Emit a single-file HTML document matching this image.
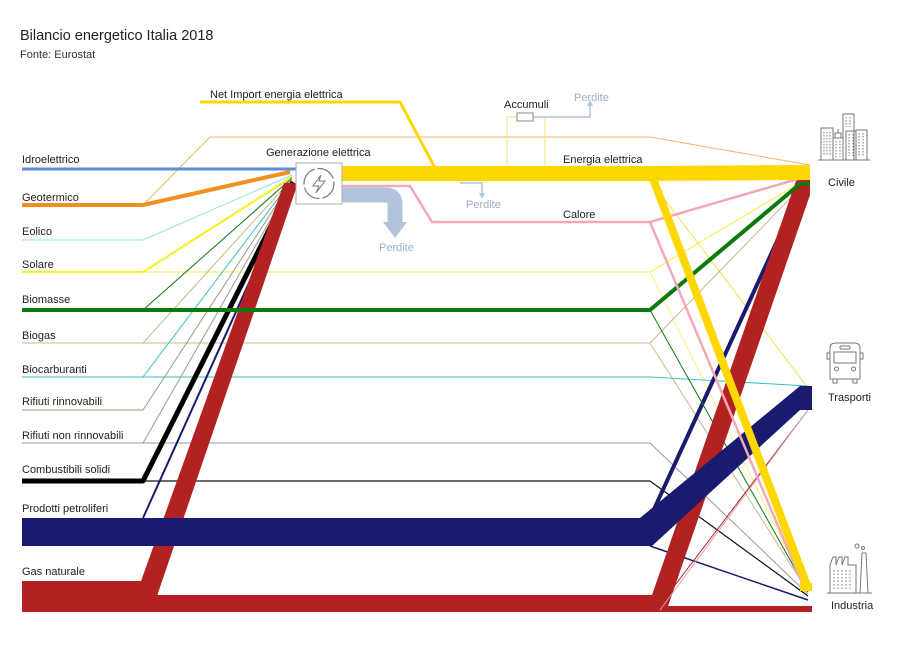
<!DOCTYPE html>
<html><head><meta charset="utf-8"><style>
body{margin:0;background:#fff}
svg{display:block;font-family:"Liberation Sans",sans-serif}
</style></head><body>
<svg width="911" height="664" viewBox="0 0 911 664" xmlns="http://www.w3.org/2000/svg">
<rect width="911" height="664" fill="#fff"/>
<text x="20" y="40" font-size="14.5" fill="#222">Bilancio energetico Italia 2018</text>
<text x="20" y="58" font-size="11" fill="#333">Fonte: Eurostat</text>

<g fill="none" stroke-linejoin="round">
<path d="M143 205 L210 137 L650 137 L810 165" stroke="#f2b46a" stroke-width="1"/>
<path d="M200 102 L400 102 L435 168" stroke="#ffd700" stroke-width="3"/>
<path d="M507 166 L507 117 L517 117" stroke="#f5e070" stroke-width="1"/>
<path d="M533 117 L545 117 L545 166" stroke="#f5e070" stroke-width="1"/>
<path d="M533 117 L590 117 L590 104" stroke="#b0c4de" stroke-width="1.5"/>
<path d="M587 106 L590 100 L593 106Z" fill="#b0c4de"/>
<rect x="517" y="113" width="16" height="8" fill="#fff" stroke="#888"/>

<path d="M143 272 L650 272 L808 178" stroke="#f7f37a" stroke-width="1.5"/>
<path d="M650 272 L808 592" stroke="#f7f37a" stroke-width="1"/>
<path d="M650 180 L808 388" stroke="#f5e04a" stroke-width="1"/>
<path d="M650 180 L808 590" stroke="#f5e04a" stroke-width="1"/>
<path d="M143 343 L650 343 L808 180" stroke="#c8b88a" stroke-width="1"/>
<path d="M650 343 L808 592" stroke="#c8b88a" stroke-width="1"/>
<path d="M22 377 L650 377 L808 386" stroke="#3bbfbf" stroke-width="1"/>
<path d="M22 443 L650 443 L808 594" stroke="#999" stroke-width="1"/>
<path d="M143 481 L650 481 L808 596" stroke="#111" stroke-width="1.2"/>
<path d="M650 546 L808 600" stroke="#1a1a6e" stroke-width="1.5"/>
<path d="M650 518 L806 178" stroke="#1a1a6e" stroke-width="4"/>
<path d="M650 310 L808 592" stroke="#0a7a0a" stroke-width="1"/>
<path d="M660 605 L808 410" stroke="#b22222" stroke-width="1"/>

<path d="M143 205 L290 172" stroke="#f0901e" stroke-width="4"/>
<path d="M22 205 L143 205" stroke="#f0901e" stroke-width="4"/>
<path d="M22 169 L296 169" stroke="#5b8fd9" stroke-width="3"/>
<path d="M22 240 L143 240 L292 175" stroke="#8fe5d8" stroke-width="1"/>
<path d="M22 272 L143 272 L292 177" stroke="#f5f020" stroke-width="2"/>
<path d="M22 310 L143 310 L292 178" stroke="#0a7a0a" stroke-width="1"/>
<path d="M22 343 L143 343 L292 179" stroke="#c8b88a" stroke-width="1"/>
<path d="M143 377 L292 180" stroke="#3bbfbf" stroke-width="1"/>
<path d="M22 410 L143 410 L292 181" stroke="#9a9a80" stroke-width="1"/>
<path d="M143 443 L292 182" stroke="#999" stroke-width="1"/>
<path d="M22 481 L143 481 L293 182" stroke="#000" stroke-width="5"/>
<path d="M143 518 L294 183" stroke="#1a1a6e" stroke-width="2"/>
</g>
<polygon points="22,581 141,581 284,183 298,183 157,596 22,596" fill="#b22222"/>
<polygon points="22,595 652,595 797,178 810,178 810,195 666,612 22,612" fill="#b22222"/>
<rect x="650" y="606" width="162" height="6" fill="#b22222"/>
<polygon points="22,518 640,518 800,386 812,386 812,410 800,410 652,546 22,546" fill="#1a1a6e"/>
<path d="M660 610 L808 410" stroke="#d8a0b0" stroke-width="1" fill="none"/>
<path d="M22 310 L650 310 L800 184 L810 184" stroke="#0a7a0a" stroke-width="4" fill="none"/>
<path d="M342 186 L410 186 L432 222 L650 222 L808 176" stroke="#f4a8b8" stroke-width="2.5" fill="none"/>
<path d="M650 222 L805 590" stroke="#f4a8b8" stroke-width="2.5" fill="none"/>
<path d="M652 176 L808 588" stroke="#ffd700" stroke-width="8" fill="none"/>
<rect x="800" y="583" width="12" height="8" fill="#ffd700"/>
<path d="M342 195 L386 195 Q395 195 395 204 L395 225" stroke="#b0c4de" stroke-width="15" fill="none"/>
<polygon points="383,222 407,222 395,238" fill="#b0c4de"/>
<polygon points="342,166 650,166 810,165 810,180 650,181 342,181" fill="#ffd700"/>
<path d="M460 183 L482 183 L482 194" stroke="#b0c4de" stroke-width="1.5" fill="none"/>
<path d="M479 193 L482 199 L485 193Z" fill="#b0c4de"/>

<rect x="296" y="163" width="46" height="41" fill="#fff" stroke="#aaa"/>
<circle cx="319" cy="183.5" r="15" fill="none" stroke="#777" stroke-width="1.2" stroke-dasharray="20 3"/>
<path d="M321 175 L313 186 L319 186 L316 193 L325 181 L319 181Z" fill="none" stroke="#777" stroke-width="1"/>

<g font-size="11" fill="#222">
<text x="22" y="163">Idroelettrico</text>
<text x="22" y="201">Geotermico</text>
<text x="22" y="235">Eolico</text>
<text x="22" y="268">Solare</text>
<text x="22" y="303">Biomasse</text>
<text x="22" y="339">Biogas</text>
<text x="22" y="373">Biocarburanti</text>
<text x="22" y="405">Rifiuti rinnovabili</text>
<text x="22" y="439">Rifiuti non rinnovabili</text>
<text x="22" y="473">Combustibili solidi</text>
<text x="22" y="512">Prodotti petroliferi</text>
<text x="22" y="575">Gas naturale</text>
<text x="210" y="98">Net Import energia elettrica</text>
<text x="266" y="156">Generazione elettrica</text>
<text x="504" y="108">Accumuli</text>
<text x="563" y="163">Energia elettrica</text>
<text x="563" y="218">Calore</text>
<text x="828" y="186">Civile</text>
<text x="828" y="401">Trasporti</text>
<text x="831" y="609">Industria</text>
</g>
<g font-size="11" fill="#9aaec8">
<text x="574" y="101">Perdite</text>
<text x="466" y="208">Perdite</text>
<text x="379" y="251">Perdite</text>
</g>

<g fill="none" stroke="#777" stroke-width="1">
<line x1="818" y1="160" x2="870" y2="160"/>
<rect x="821" y="128" width="12" height="32"/>
<rect x="833" y="138" width="10" height="22"/>
<path d="M835 138 L835 133 L841 133 L841 138 M838 133 L838 129"/>
<rect x="843" y="114" width="11" height="46"/>
<rect x="846" y="131" width="10" height="29"/>
<rect x="856" y="130" width="11" height="30"/>
<path d="M824 132 v24 M827 132 v24 M830 132 v24 M836 141 v16 M840 141 v16 M846 117 v10 M850 117 v10 M849 134 v22 M853 134 v22 M859 133 v24 M863 133 v24" stroke-dasharray="1.5 1.5"/>
</g>
<g fill="none" stroke="#777" stroke-width="1">
<path d="M830 348 Q830 343 836 343 L854 343 Q860 343 860 348 L860 379 L830 379Z"/>
<rect x="834" y="352" width="22" height="11"/>
<rect x="840" y="346" width="10" height="3" rx="1"/>
<circle cx="836.5" cy="369" r="2"/><circle cx="853.5" cy="369" r="2"/>
<path d="M833 379 v4 h4 v-4 M853 379 v4 h4 v-4"/>
<path d="M830 353 h-3 v6 h3 M860 353 h3 v6 h-3"/>
</g>
<g fill="none" stroke="#777" stroke-width="1">
<line x1="827" y1="593" x2="872" y2="593"/>
<path d="M830 593 L830 565 L833 557 L836 557 L836 565 L839 557 L842 557 L842 565 L845 557 L848 557 L848 565 L856 565 L856 593"/>
<path d="M860 593 L862 553 L866 553 L868 593"/>
<circle cx="857" cy="546" r="2"/><circle cx="863" cy="548" r="1.5"/>
<path d="M834 570 v20 M838 570 v20 M842 570 v20 M846 570 v20 M850 570 v20" stroke-dasharray="1.5 2"/>
</g>
</svg>
</body></html>
